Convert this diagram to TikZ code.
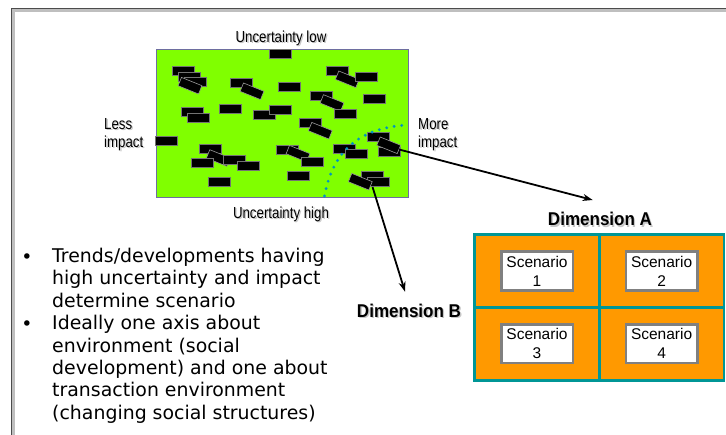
\documentclass[tikz,border=0pt]{standalone}
\usepackage{fontspec}
\usetikzlibrary{arrows.meta}
\newfontfamily\labelfont[FakeStretch=0.83]{Liberation Sans}
\newfontfamily\dimfont[FakeStretch=0.92]{Liberation Sans}
\newfontfamily\bodyfont{DejaVu Sans}
\newfontfamily\scenfont{Liberation Sans}
\definecolor{fieldgreen}{RGB}{128,255,0}
\definecolor{fieldedge}{RGB}{110,110,160}
\definecolor{dotteal}{RGB}{0,150,190}
\definecolor{gridteal}{RGB}{0,150,150}
\definecolor{cellorange}{RGB}{255,153,0}
% text with a soft grey drop shadow
\newcommand\shadowed[1]{\makebox[0pt][l]{\hspace{1.3bp}\raisebox{-1.3bp}{\color{black!22}#1}}#1}
\tikzset{
  trend/.style={fill=black, draw=black!55, line width=0.6bp, minimum width=22bp, minimum height=9bp, inner sep=0pt},
  tilted/.style={trend, draw=black!40, rotate=-22},
  axislabel/.style={inner sep=0pt, font=\labelfont\fontsize{16bp}{18bp}\selectfont, align=left},
  dimlabel/.style={inner sep=0pt, font=\dimfont\bfseries\fontsize{18.5bp}{20bp}\selectfont},
  cell/.style={fill=cellorange, draw=gridteal, line width=2.7bp, minimum width=124.6bp, minimum height=72.8bp, inner sep=0pt},
  scenbox/.style={fill=white, draw=gray, line width=2.5bp, minimum width=71.5bp, minimum height=38.8bp, inner sep=0pt, align=center, font=\scenfont\fontsize{15.5bp}{19bp}\selectfont},
  bodytext/.style={inner sep=0pt, align=left, font=\bodyfont\fontsize{18.9bp}{22.4bp}\selectfont},
  pointer/.style={-{Stealth[length=10bp, width=7bp]}, line width=1.8bp, black},
}
\begin{document}
\begin{tikzpicture}[x=1bp, y=-1bp]
\useasboundingbox (0,0) rectangle (726,435);
% page frame
\draw[black!25, line width=3bp] (13.5,435) -- (13.5,10.5) -- (726,10.5);
\draw[black!70, line width=1.5bp] (11.5,435) -- (11.5,8.5) -- (726,8.5);

% field of trends
\node[fill=fieldgreen, draw=fieldedge, line width=0.8bp, minimum width=252bp, minimum height=148bp, inner sep=0pt] (field) at (282,123) {};

\node[trend] (b1) at (280.7,53.5) {};
\node[trend] (b2) at (183.3,71.3) {};
\node[trend] (b3) at (189.3,76.7) {};
\node[trend] (b4) at (195.3,82.3) {};
\node[tilted] (b5) at (190,85.7) {};
\node[trend] (b6) at (241.7,82.7) {};
\node[tilted] (b7) at (252,91.3) {};
\node[trend] (b8) at (289.3,87) {};
\node[trend] (b9) at (337,71) {};
\node[tilted] (b10) at (347.3,79.3) {};
\node[trend] (b11) at (366.3,77.3) {};
\node[trend] (b12) at (374.7,98.7) {};
\node[trend] (b13) at (321.3,95.7) {};
\node[tilted] (b14) at (332,103) {};
\node[trend] (b15) at (345,113.7) {};
\node[trend] (b16) at (192.7,111.7) {};
\node[trend] (b17) at (198.7,117.7) {};
\node[trend] (b18) at (230.3,109.3) {};
\node[trend] (b19) at (264.7,115.3) {};
\node[trend] (b20) at (280.7,109.7) {};
\node[trend] (b21) at (310,122.7) {};
\node[tilted] (b22) at (320.3,130.7) {};
\node[trend] (b23) at (166,140.7) {};
\node[trend] (b24) at (210,148.7) {};
\node[tilted] (b25) at (218.3,158) {};
\node[trend] (b26) at (234.7,159.7) {};
\node[trend] (b27) at (202.7,162.7) {};
\node[trend] (b28) at (248.7,165.7) {};
\node[trend] (b29) at (219.3,181.7) {};
\node[trend] (b30) at (287.7,150.3) {};
\node[tilted] (b31) at (298,153.7) {};
\node[trend] (b32) at (312,162.3) {};
\node[trend] (b33) at (298,176) {};
\node[trend] (b34) at (344.3,148.7) {};
\node[trend] (b35) at (356,153.7) {};
\node[trend] (b36) at (378.3,137) {};
\node[trend] (b38) at (389.7,151.7) {};
\node[tilted] (b37) at (388.7,145.3) {};
\node[trend] (b39) at (372.7,176.3) {};
\node[trend] (b40) at (378.3,182.3) {};
\node[tilted] (b41) at (360.3,181.7) {};

% boundary of the high uncertainty / high impact corner
\draw[dotteal, line width=3.2bp, line cap=round, dash pattern=on 0bp off 7.6bp]
  (324.5,196) .. controls (333,150) and (360,128) .. (407,125);

% axis labels
\node[axislabel] (ulow) at (281,39) {\shadowed{Uncertainty low}};
\node[axislabel] (uhigh) at (281,215) {\shadowed{Uncertainty high}};
\node[axislabel, anchor=west] (less) at (104,135) {\shadowed{Less}\\\shadowed{impact}};
\node[axislabel, anchor=west] (more) at (418,135) {\shadowed{More}\\\shadowed{impact}};

% scenario matrix
\node[dimlabel, anchor=base] (dimA) at (600,226) {\shadowed{Dimension A}};
\node[dimlabel, anchor=base] (dimB) at (409,317.3) {\shadowed{Dimension B}};
\node[cell] (c1) at (537,271) {};
\node[cell] (c2) at (661.6,271) {};
\node[cell] (c3) at (537,343.8) {};
\node[cell] (c4) at (661.6,343.8) {};
\node[scenbox] (s1) at (c1) {Scenario\\1};
\node[scenbox] (s2) at (c2) {Scenario\\2};
\node[scenbox] (s3) at (c3) {Scenario\\3};
\node[scenbox] (s4) at (c4) {Scenario\\4};

% pointers from the critical trends to the dimensions
\coordinate (tipA) at (592.7,200);
\coordinate (tipB) at (405,291.7);
\draw[pointer] (b37.east) -- (tipA);
\draw[pointer] (b40.220) -- (tipB);

% explanatory bullets
\node[bodytext, anchor=north west] (t1) at (52,248) {Trends/developments having\\high uncertainty and impact\\determine scenario};
\node[bodytext, anchor=north west] (t2) at (52,315.2) {Ideally one axis about\\environment (social\\development) and one about\\transaction environment\\(changing social structures)};
\node[bodytext, anchor=base] (d1) at (27,263.3) {•};
\node[bodytext, anchor=base] (d2) at (27,330.5) {•};
\end{tikzpicture}
\end{document}
